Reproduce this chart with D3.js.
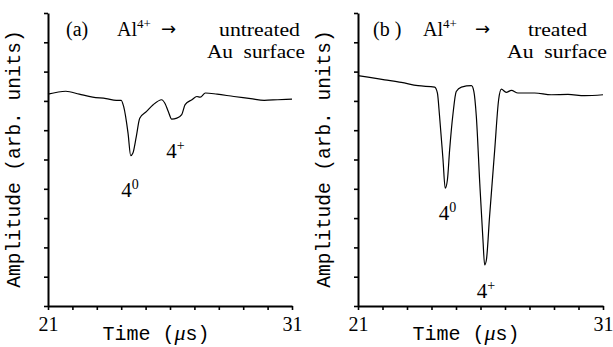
<!DOCTYPE html>
<html>
<head>
<meta charset="utf-8">
<script src="https://cdn.jsdelivr.net/npm/d3@7"></script>
<style>
  body { margin: 0; background: #fff; }
  svg { display: block; }
  text { fill: #000; }
</style>
</head>
<body>
<svg id="chart" width="613" height="347"></svg>
<script>
// time axis (µs) and amplitude (arb. units, 0..10 tick steps)
const timeTicks = d3.range(21, 32, 1);
const timeLabels = [21, 31];
const ampTicks = d3.range(0, 11, 1);

// panel (a): untreated surface
const timeA = [21.0, 21.73, 22.28, 22.83, 23.38, 23.8, 24.0, 24.1, 24.28, 24.39, 24.48, 24.62, 24.76, 25.04, 25.31, 25.66, 25.79, 25.93, 26.07, 26.28, 26.48, 26.62, 26.9, 27.1, 27.24, 27.45, 27.93, 28.62, 29.31, 29.86, 30.41, 31.0];
const ampA  = [7.23, 7.33, 7.23, 7.13, 7.08, 7.02, 7.02, 6.81, 5.9, 5.13, 5.22, 5.79, 6.41, 6.64, 6.87, 7.04, 6.92, 6.64, 6.38, 6.41, 6.53, 6.87, 7.04, 7.15, 7.13, 7.27, 7.23, 7.15, 7.08, 7.02, 7.04, 7.06];

// panel (b): treated surface
const timeB = [21.0, 21.41, 22.09, 22.77, 23.45, 24.13, 24.24, 24.33, 24.47, 24.56, 24.65, 24.74, 24.88, 25.01, 25.22, 25.63, 25.73, 25.83, 25.97, 26.1, 26.17, 26.24, 26.37, 26.58, 26.74, 26.85, 27.05, 27.26, 27.53, 28.21, 28.89, 29.57, 30.25, 31.0];
const ampB  = [7.86, 7.81, 7.72, 7.63, 7.52, 7.47, 7.27, 6.47, 4.99, 4.02, 4.31, 5.33, 6.58, 7.32, 7.47, 7.52, 7.32, 6.47, 4.19, 2.26, 1.4, 1.57, 3.05, 5.33, 7.04, 7.4, 7.29, 7.36, 7.27, 7.27, 7.21, 7.22, 7.18, 7.21];

const svg = d3.select("#chart");
const serif = "'Liberation Serif', 'Times New Roman', serif";
const mono = "'Liberation Mono', 'Courier New', monospace";

function drawPanel(opts) {
  const x = d3.scaleLinear().domain([21, 31]).range([opts.left, opts.right]);
  const y = d3.scaleLinear().domain([0, 10]).range([306, 13]);
  const g = svg.append("g");

  const yAxis = g.append("g")
    .attr("transform", `translate(${opts.left},0)`)
    .call(d3.axisLeft(y).tickValues(ampTicks).tickSize(4).tickSizeOuter(0).tickFormat(""));
  const xAxis = g.append("g")
    .attr("transform", `translate(0,306)`)
    .call(d3.axisBottom(x).tickValues(timeTicks).tickSize(4).tickSizeOuter(0).tickPadding(7)
      .tickFormat(d => timeLabels.includes(d) ? d : ""));
  [yAxis, xAxis].forEach(a => {
    a.select(".domain").attr("stroke", "#000").attr("stroke-width", 2);
    a.selectAll(".tick line").attr("stroke", "#000").attr("stroke-width", 1.6);
  });
  xAxis.selectAll(".tick text")
    .attr("font-family", serif).attr("font-size", 20).attr("fill", "#000");

  const line = d3.line().x((d, i) => x(opts.time[i])).y(d => y(d)).curve(d3.curveMonotoneX);
  g.append("path")
    .datum(opts.amp)
    .attr("d", line)
    .attr("fill", "none")
    .attr("stroke", "#000")
    .attr("stroke-width", 1.2);

  // axis titles
  g.append("text")
    .attr("transform", `translate(${opts.left - 28},${159}) rotate(-90)`)
    .attr("text-anchor", "middle")
    .attr("font-family", mono).attr("font-size", 19.5)
    .text("Amplitude (arb. units)");
  const tx = g.append("text")
    .attr("x", opts.left + 108).attr("y", 340)
    .attr("text-anchor", "middle")
    .attr("font-family", mono).attr("font-size", 20);
  tx.append("tspan").text("Time (");
  tx.append("tspan").attr("font-family", serif).attr("font-style", "italic").attr("font-size", 22).text("\u03bc");
  tx.append("tspan").text("s)");

  // header
  const h = opts.head;
  const t = g.append("text").attr("y", 36).attr("font-family", serif).attr("font-size", 20);
  t.append("tspan").attr("x", h.tag).text(opts.tag);
  t.append("tspan").attr("x", h.al).text("Al");
  t.append("tspan").attr("font-size", 13).attr("dy", -8).text("4+");
  g.append("text").attr("x", h.arrow).attr("y", 35)
    .attr("font-family", "'DejaVu Sans', sans-serif").attr("font-size", 18).text("\u2192");
  g.append("text").attr("x", h.kind[0]).attr("y", 36)
    .attr("textLength", h.kind[1] - h.kind[0]).attr("lengthAdjust", "spacingAndGlyphs")
    .attr("font-family", serif).attr("font-size", 19).text(opts.kind);
  g.append("text").attr("x", h.au[0]).attr("y", 58)
    .attr("textLength", h.au[1] - h.au[0]).attr("lengthAdjust", "spacingAndGlyphs")
    .attr("font-family", serif).attr("font-size", 19).attr("xml:space", "preserve")
    .text("Au  surface");

  // peak labels
  opts.peaks.forEach(p => {
    const pt = g.append("text").attr("x", x(p.t)).attr("y", y(p.v))
      .attr("font-family", serif).attr("font-size", 21);
    pt.append("tspan").text("4");
    pt.append("tspan").attr("font-size", 14).attr("dy", -8).text(p.sup);
  });
}

drawPanel({
  left: 48, right: 292, tag: "(a)", kind: "untreated",
  head: {tag: 66, al: 117, arrow: 161, kind: [219, 300], au: [207, 305]},
  time: timeA, amp: ampA,
  peaks: [{t: 24.0, v: 3.73, sup: "0"}, {t: 25.85, v: 5.06, sup: "+"}]
});
drawPanel({
  left: 358, right: 603, tag: "(b )", kind: "treated",
  head: {tag: 373, al: 423, arrow: 475, kind: [528, 587], au: [507, 607]},
  time: timeB, amp: ampB,
  peaks: [{t: 24.3, v: 2.93, sup: "0"}, {t: 25.85, v: 0.27, sup: "+"}]
});
</script>
</body>
</html>
